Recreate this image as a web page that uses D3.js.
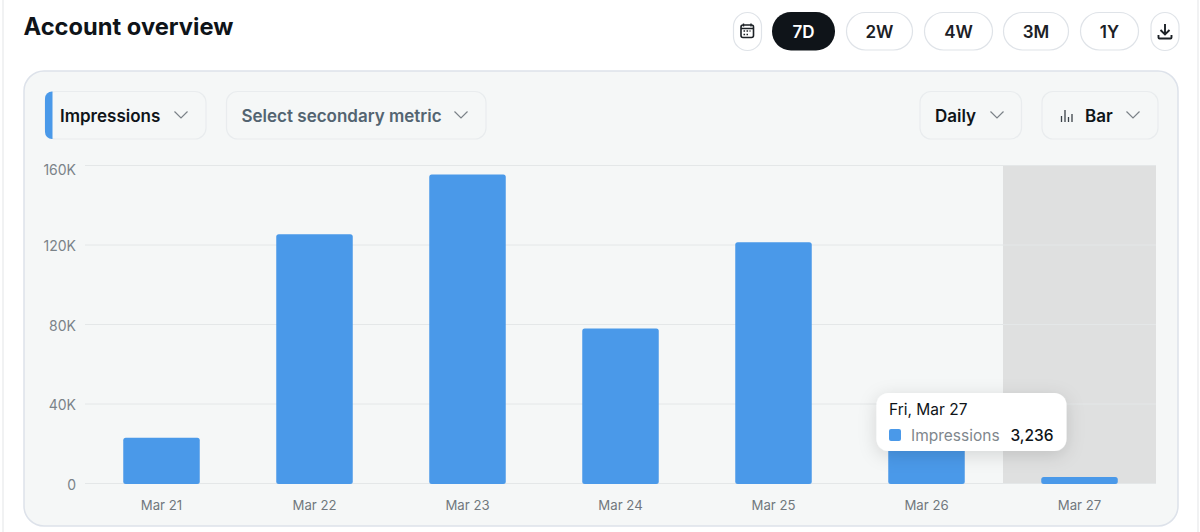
<!DOCTYPE html>
<html><head><meta charset="utf-8">
<script src="https://cdn.jsdelivr.net/npm/d3@7"></script>
<style>
html,body{margin:0;padding:0;background:#fff;overflow:hidden}
svg{display:block}
text{font-family:Inter,"Noto Sans",sans-serif}
</style></head><body>
<svg id="c" width="1200" height="532"></svg>
<script>
const categories=["Mar 21","Mar 22","Mar 23","Mar 24","Mar 25","Mar 26","Mar 27"];
const impressions=[23000,125400,155500,78000,121400,22000,3236];
const yTicks=[0,40000,80000,120000,160000];
const rangeButtons=["7D","2W","4W","3M","1Y"];
const tooltipDate="Fri, Mar 27";
const tooltipValue="3,236";

const svg=d3.select("#c");
const x=d3.scaleBand().domain(categories).range([85,1156]).paddingInner(0.5).paddingOuter(0.25);
const y=d3.scaleLinear().domain([0,160000]).range([483.5,165.5]);

// page edges
svg.append("line").attr("x1",3).attr("x2",3).attr("y1",0).attr("y2",532).attr("stroke","#f1f2f3").attr("stroke-width",2);
svg.append("line").attr("x1",1198).attr("x2",1198).attr("y1",0).attr("y2",532).attr("stroke","#f1f2f3").attr("stroke-width",2);

// title
svg.append("text").attr("x",23.5).attr("y",35).attr("font-size",23.7).attr("font-weight",700).attr("fill","#0f1419").text("Account overview");

// panel
svg.append("rect").attr("x",24).attr("y",71).attr("width",1154).attr("height",455).attr("rx",20)
  .attr("fill","#f5f7f7").attr("stroke","#dde2ea").attr("stroke-width",1.5);

// helpers
function pill(px,py,w,h,r,fill,stroke){
  return svg.append("rect").attr("x",px).attr("y",py).attr("width",w).attr("height",h).attr("rx",r).attr("fill",fill).attr("stroke",stroke).attr("stroke-width",1.2);
}
function chevron(cx,cy,col){
  svg.append("path").attr("d",d3.line()([[cx-6.5,cy-3.5],[cx,cy+3],[cx+6.5,cy-3.5]])).attr("fill","none").attr("stroke",col||"#7b8288").attr("stroke-width",1.2);
}
function label(tx,ty,s,size,weight,col,anchor){
  return svg.append("text").attr("x",tx).attr("y",ty).attr("font-size",size).attr("font-weight",weight).attr("fill",col).attr("text-anchor",anchor||"start").text(s);
}

// range buttons
const bx=[772,846,924,1003,1080], bw=[63,67,69,66,59];
pill(733.5,12.5,28,38,14,"#fff","#dfe3e8");
rangeButtons.forEach((b,i)=>{
  const on=i===0;
  pill(bx[i]+(on?0:.5),12+(on?0:.5),bw[i]-(on?0:1),on?38.5:37.5,19,on?"#0f1419":"#fff",on?"none":"#dfe3e8");
  label(bx[i]+bw[i]/2,37.5,b,17,600,on?"#fff":"#1c2126","middle");
});
pill(1151,12.5,28,38,14,"#fff","#dfe3e8");
// calendar icon
svg.append("rect").attr("x",741).attr("y",25).attr("width",12.5).attr("height",12.5).attr("rx",2).attr("fill","none").attr("stroke","#1c2126").attr("stroke-width",1.6);
svg.append("path").attr("d","M743.5 23.5v3M751 23.5v3M741 28.5h12.5").attr("stroke","#1c2126").attr("stroke-width",1.4);
svg.append("path").attr("d","M743.5 31h7M743.5 34.5h4.5").attr("stroke","#1c2126").attr("stroke-width",1.6).attr("stroke-dasharray","1.6 1.4");
// download icon
svg.append("path").attr("d","M1165 24v10M1160.5 30l4.5 4.5 4.5-4.5M1158.5 35v2.5a1 1 0 0 0 1 1h11a1 1 0 0 0 1-1V35").attr("fill","none").attr("stroke","#1c2126").attr("stroke-width",1.9);

// dropdowns
pill(45,91.5,161,47.5,11,"#f5f7f7","#e9ecee");
svg.append("path").attr("d","M52.5 91.5 H52 a7 7 0 0 0 -7 7 V132 a7 7 0 0 0 7 7 H52.5 Z").attr("fill","#4a99e9");
label(60,121.5,"Impressions",17,600,"#0f1419");
chevron(181,115);
pill(226.5,91.5,259.5,47.5,11,"#f5f7f7","#e9ecee");
label(241.5,121.5,"Select secondary metric",17,600,"#536471");
chevron(461,115);
pill(920,91.5,101.5,47.5,11,"#f5f7f7","#e9ecee");
label(935,121.5,"Daily",17,600,"#0f1419");
chevron(997,115);
pill(1042,91.5,116,47.5,11,"#f5f7f7","#e9ecee");
svg.append("path").attr("d","M1061.5 122v-6M1065 122v-12M1068.5 122v-5M1072 122v-8").attr("stroke","#3b4249").attr("stroke-width",1.3).attr("fill","none");
label(1085,121.5,"Bar",17,600,"#0f1419");
chevron(1133,115);

// highlight band
svg.append("rect").attr("x",x(categories[6])-x.step()*x.paddingInner()/2).attr("y",y(160000)).attr("width",x.step()).attr("height",y(0)-y(160000)).attr("fill","#dfe0e0");

// grid
svg.append("g").selectAll("line").data(yTicks).join("line")
  .attr("x1",85).attr("x2",1156).attr("y1",d=>y(d)).attr("y2",d=>y(d)).attr("stroke","#e4e7e8").attr("stroke-width",1);

// y axis
const yAxis=d3.axisLeft(y).tickValues(yTicks).tickSize(0).tickPadding(0).tickFormat(d=>d===0?"0":(d/1000)+"K");
const gy=svg.append("g").attr("transform","translate(76,1.5)").call(yAxis);
gy.select(".domain").remove();
gy.selectAll("text").attr("font-size",14).attr("fill","#7b8389").attr("font-family","Inter,sans-serif")
  .attr("transform",d=>d===160000?"translate(0,3.5)":null);

// x axis
const xAxis=d3.axisBottom(x).tickSize(0).tickPadding(0);
const gx=svg.append("g").attr("transform","translate(0,500.5)").call(xAxis);
gx.select(".domain").remove();
gx.selectAll("text").attr("font-size",13.2).attr("fill","#71777d").attr("font-family","Inter,sans-serif");

// bars
const r=2.5;
svg.append("g").selectAll("rect").data(categories).join("rect")
  .attr("x",d=>x(d)).attr("y",(d,i)=>y(impressions[i])).attr("width",x.bandwidth())
  .attr("height",(d,i)=>y(0)-y(impressions[i])+.5).attr("rx",r).attr("fill","#4a99e9");

// tooltip
const defs=svg.append("defs");
const f=defs.append("filter").attr("id","sh").attr("x","-20%").attr("y","-30%").attr("width","140%").attr("height","170%");
f.append("feDropShadow").attr("dx",0).attr("dy",4).attr("stdDeviation",9).attr("flood-color","#000").attr("flood-opacity",.14);
svg.append("rect").attr("x",876.5).attr("y",393).attr("width",190).attr("height",58).attr("rx",12).attr("fill","#fff").attr("filter","url(#sh)");
label(889,415,tooltipDate,15.5,400,"#0f1419");
svg.append("rect").attr("x",889).attr("y",429).attr("width",12).attr("height",12).attr("rx",2).attr("fill","#4a99e9");
label(911,441,"Impressions",15.5,400,"#7f878d");
label(1053.5,441,tooltipValue,15.5,500,"#0f1419","end");
</script>
</body></html>
